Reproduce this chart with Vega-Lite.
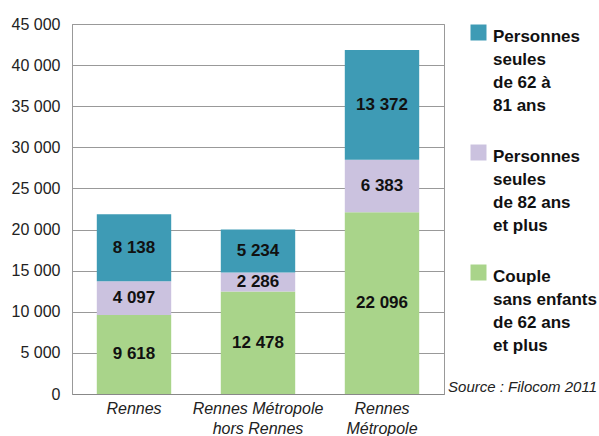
{
  "$schema": "https://vega.github.io/schema/vega-lite/v6.json",
  "width": 372,
  "height": 370,
  "autosize": {"type": "none"},
  "padding": {"left": 72, "top": 24, "right": 155, "bottom": 42},
  "title": {"text": "Source : Filocom 2011", "orient": "bottom", "anchor": "end", "frame": "bounds", "fontStyle": "italic", "fontWeight": "normal", "fontSize": 15, "color": "#222", "font": "Liberation Sans", "dy": -60, "dx": 0},
  "data": {"values": [
    {"zone": "Rennes", "type": "Couple|sans enfants|de 62 ans|et plus", "rang": 1, "n": 9618},
    {"zone": "Rennes", "type": "Personnes|seules|de 82 ans|et plus", "rang": 2, "n": 4097},
    {"zone": "Rennes", "type": "Personnes|seules|de 62 à|81 ans", "rang": 3, "n": 8138},
    {"zone": "Rennes Métropole|hors Rennes", "type": "Couple|sans enfants|de 62 ans|et plus", "rang": 1, "n": 12478},
    {"zone": "Rennes Métropole|hors Rennes", "type": "Personnes|seules|de 82 ans|et plus", "rang": 2, "n": 2286},
    {"zone": "Rennes Métropole|hors Rennes", "type": "Personnes|seules|de 62 à|81 ans", "rang": 3, "n": 5234},
    {"zone": "Rennes|Métropole", "type": "Couple|sans enfants|de 62 ans|et plus", "rang": 1, "n": 22096},
    {"zone": "Rennes|Métropole", "type": "Personnes|seules|de 82 ans|et plus", "rang": 2, "n": 6383},
    {"zone": "Rennes|Métropole", "type": "Personnes|seules|de 62 à|81 ans", "rang": 3, "n": 13372}
  ]},
  "transform": [
    {"stack": "n", "groupby": ["zone"], "sort": [{"field": "rang", "order": "ascending"}], "as": ["n0", "n1"]},
    {"calculate": "(datum.n0 + datum.n1) / 2", "as": "nmid"}
  ],
  "encoding": {
    "x": {"field": "zone", "type": "nominal", "sort": null,
      "scale": {"paddingInner": 0.4, "paddingOuter": 0.2},
      "axis": {"title": null, "labelAngle": 0, "labelExpr": "split(datum.label, '|')", "labelFontStyle": "italic", "labelFontSize": 16, "labelFont": "Liberation Sans", "labelColor": "#222", "labelLineHeight": 20, "labelPadding": 10, "ticks": false, "domainColor": "#888", "labelBaseline": "top"}}
  },
  "layer": [
    {
      "mark": {"type": "bar"},
      "encoding": {
        "y": {"field": "n0", "type": "quantitative", "scale": {"domain": [0, 45000]},
          "axis": {"title": null, "values": [0,5000,10000,15000,20000,25000,30000,35000,40000,45000], "format": ",d", "ticks": false, "labelPadding": 12, "labelOffset": 4, "labelOverlap": false, "labelBound": false, "labelFlush": false, "labelFontSize": 16, "labelFont": "Liberation Sans", "labelColor": "#222", "gridColor": "#999", "domainColor": "#999"}},
        "y2": {"field": "n1"},
        "color": {"field": "type", "type": "nominal",
          "scale": {"domain": ["Personnes|seules|de 62 à|81 ans", "Personnes|seules|de 82 ans|et plus", "Couple|sans enfants|de 62 ans|et plus"], "range": ["#3e9bb5", "#cbc2df", "#a9d48a"]},
          "legend": {"title": null, "orient": "right", "offset": 26, "symbolType": "square", "symbolSize": 256, "symbolStrokeWidth": 0, "labelExpr": "split(datum.label, '|')", "labelFontSize": 17, "labelFontWeight": "bold", "labelFont": "Liberation Sans", "labelColor": "#111", "labelBaseline": "top", "labelOffset": 6, "rowPadding": 30, "labelLimit": 200}}
      }
    },
    {
      "mark": {"type": "text", "fontSize": 17, "fontWeight": "bold", "font": "Liberation Sans", "color": "#111", "baseline": "middle"},
      "encoding": {
        "y": {"field": "nmid", "type": "quantitative"},
        "text": {"field": "n", "type": "quantitative", "format": ",d"}
      }
    }
  ],
  "config": {
    "locale": {"number": {"decimal": ",", "thousands": " ", "grouping": [3], "currency": ["", " €"]}},
    "view": {"stroke": "#999"},
    "style": {"guide-label": {"lineHeight": 23, "dy": -4}}
  }
}
